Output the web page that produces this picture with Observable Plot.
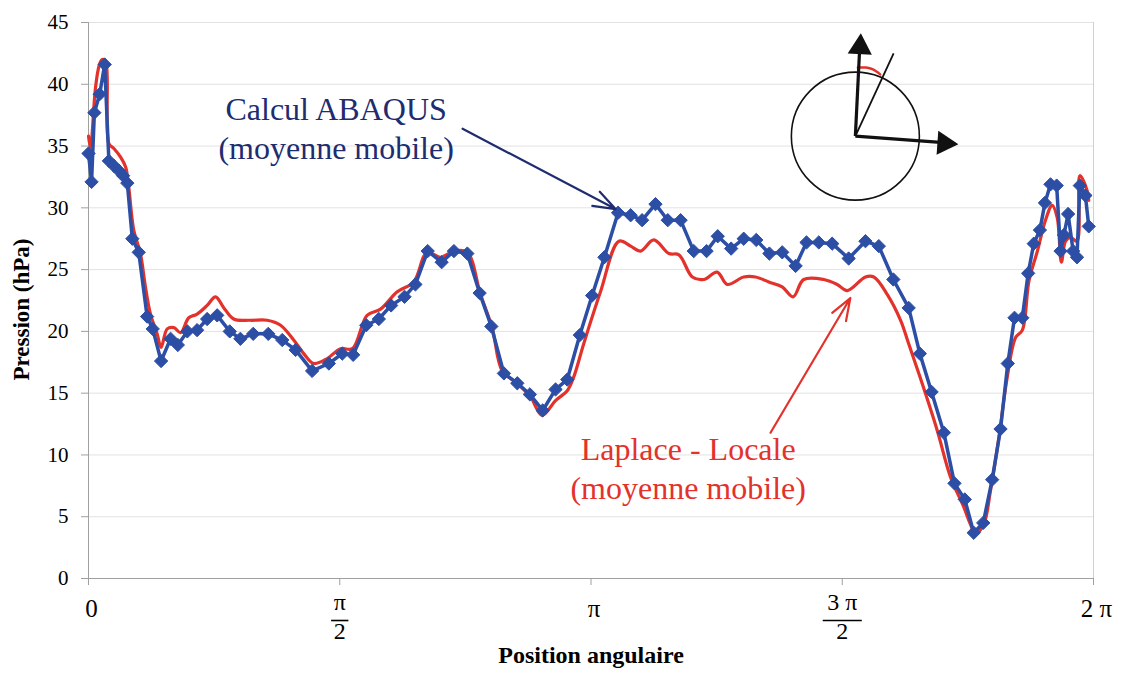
<!DOCTYPE html>
<html>
<head>
<meta charset="utf-8">
<script src="https://cdn.jsdelivr.net/npm/d3@7"></script>
<script src="https://cdn.jsdelivr.net/npm/@observablehq/plot@0.6"></script>
<style>
  html, body { margin: 0; padding: 0; background: #fff; }
  #chart svg { display: block; }
</style>
</head>
<body>
<div id="chart"></div>
<script>
// Angular position in degrees (0..360 = 0..2π), pressure in hPa
const abaqusAngle = [0.0,1.1,2.1,4.0,5.8,7.3,9.1,10.9,12.4,13.9,15.7,18.0,21.0,23.0,26.0,29.4,32.0,35.4,38.9,42.5,46.1,50.6,54.4,59.0,64.4,69.4,74.2,80.1,86.1,90.9,94.8,99.5,104.0,108.4,113.2,117.1,121.5,126.5,130.9,135.7,140.1,144.3,148.8,153.6,158.1,162.7,167.3,171.5,176.0,180.4,184.8,189.7,194.2,198.3,203.1,207.5,212.1,216.8,221.4,225.4,230.2,234.7,239.2,243.9,248.5,253.3,257.2,261.6,266.4,272.3,278.3,283.1,288.3,293.8,297.8,302.0,306.4,310.2,313.9,317.1,320.5,323.7,326.7,329.3,331.7,334.5,336.6,338.6,340.8,342.6,344.6,346.8,348.2,349.4,350.9,352.7,354.1,355.1,357.1,358.3];
const abaqusP = [34.4,32.1,37.7,39.2,41.6,33.8,33.4,33.0,32.6,32.0,27.5,26.4,21.2,20.2,17.6,19.4,18.9,20.0,20.1,21.0,21.3,20.0,19.4,19.8,19.8,19.3,18.5,16.8,17.4,18.2,18.1,20.5,21.0,22.1,22.8,23.8,26.5,25.6,26.5,26.3,23.1,20.4,16.6,15.8,14.9,13.6,15.3,16.1,19.7,22.9,26.0,29.6,29.4,29.0,30.3,29.0,29.0,26.5,26.5,27.7,26.7,27.5,27.4,26.3,26.4,25.3,27.2,27.2,27.1,25.9,27.3,26.9,24.2,21.9,18.2,15.1,11.8,7.7,6.4,3.7,4.5,8.0,12.1,17.4,21.1,21.1,24.7,27.1,28.2,30.4,31.9,31.8,26.5,27.8,29.5,26.5,26.0,31.8,31.0,28.5];

const laplaceAngle = [0.0,0.7,2.5,3.8,4.9,6.1,7.3,9.1,11.5,13.3,14.4,16.2,18.6,20.4,22.2,24.6,26.0,28.2,30.6,33.0,35.9,38.9,42.5,45.5,48.5,52.0,58.0,64.0,68.8,73.5,77.1,80.7,85.5,90.3,94.5,99.8,104.6,110.6,116.5,121.3,126.1,130.9,135.7,140.4,144.6,148.2,153.6,158.3,162.5,167.3,171.5,173.8,177.4,183.4,190.0,194.2,197.7,202.5,207.9,211.5,216.3,220.4,225.2,228.8,234.7,238.9,243.7,248.5,252.4,256.2,263.4,268.2,271.8,278.3,281.3,286.1,290.9,293.8,298.6,304.0,308.8,313.5,315.9,317.7,320.7,323.1,326.1,329.1,332.1,334.5,336.9,339.9,342.8,345.2,347.0,348.5,350.0,351.8,354.1,355.1,357.7,358.3];
const laplaceP = [35.8,34.9,39.7,41.5,42.0,41.9,35.2,34.8,34.1,33.3,31.7,28.2,26.3,23.6,21.4,19.8,18.7,20.2,20.3,19.9,21.1,21.4,22.1,22.8,21.9,21.0,20.9,20.9,20.5,19.3,18.2,17.4,17.8,18.6,18.6,21.3,21.8,23.2,24.0,26.4,26.0,26.5,26.4,23.0,20.3,16.8,15.8,14.7,13.2,14.4,15.2,16.3,19.0,23.2,27.3,26.9,26.5,27.4,26.3,26.2,24.4,24.2,24.8,23.8,24.4,24.4,24.0,23.6,22.8,24.2,24.2,23.8,23.3,24.4,24.4,23.0,20.9,19.0,15.8,12.0,8.2,5.8,4.4,3.6,4.4,7.1,11.4,16.3,19.5,20.1,24.1,26.5,29.0,30.2,29.2,25.6,27.3,27.6,27.3,32.6,31.4,30.6];

const yTicks = [0,5,10,15,20,25,30,35,40,45];
const xTicks = [0,90,180,270,360];
const xTickLabels = ["0","π/2","π","3 π/2","2 π"];

const yTitle = "Pression (hPa)";
const xTitle = "Position angulaire";
const abaqusNote = ["Calcul ABAQUS","(moyenne mobile)"];
const laplaceNote = ["Laplace - Locale","(moyenne mobile)"];

const blue = "#2D4EA5";
const red = "#E3322B";
const navy = "#202C70";

// inset sketch (angle, pressure coordinates)
const insetCenter = [274.7, 35.8];
const insetArrows = [
  {x2: 276.2, y2: 42.7, hx: 276.4, hy: 43.0, rot: 3},
  {x2: 305.2, y2: 35.3, hx: 306.6, hy: 35.23, rot: 94}
];
const insetRay = [288.4, 42.5];
const insetArcAngle = [275.6, 278.5, 281.0, 283.6];
const insetArcP = [41.35, 41.35, 41.2, 40.8];

const blueData = abaqusAngle.map((a, i) => ({a, p: abaqusP[i]}));
const redData = laplaceAngle.map((a, i) => ({a, p: laplaceP[i]}));
const tickData = xTicks.map((x, i) => {
  const s = xTickLabels[i];
  const parts = s.split("/");
  return {x, frac: parts.length === 2, num: parts[0], den: parts[1] || "", label: s};
});
const fracTicks = tickData.filter(d => d.frac);
const plainTicks = tickData.filter(d => !d.frac);
// fraction bar half-width (degrees) follows numerator length; bar sits just below the axis
const barHalf = d => d.num.length > 1 ? 7.0 : 3.1;
const barY = -3.4;

const serif = "'Liberation Serif', 'Times New Roman', serif";

const chart = Plot.plot({
  width: 1121,
  height: 673,
  marginLeft: 88,
  marginRight: 28,
  marginTop: 22,
  marginBottom: 95,
  style: {fontFamily: serif, fontSize: "20px", color: "#000", background: "#fff"},
  x: {domain: [0, 360], axis: null},
  y: {domain: [0, 45], axis: null},
  marks: [
    Plot.ruleY(yTicks, {stroke: "#e2e2e2", strokeWidth: 1}),
    Plot.ruleX([360], {stroke: "#d0d0d0"}),
    Plot.ruleX([0], {stroke: "#a0a0a0"}),
    Plot.ruleY([0], {stroke: "#a0a0a0"}),
    Plot.axisY({ticks: yTicks, tickSize: 7, tickPadding: 13, stroke: "#a0a0a0", label: null, fontSize: 21}),
    Plot.axisX({ticks: xTicks, tickSize: 7, tickFormat: () => "", stroke: "#a0a0a0", label: null}),
    // x tick labels
    Plot.text(plainTicks, {x: "x", text: "label", frameAnchor: "bottom", dx: 3, dy: 38, fontSize: 25}),
    Plot.text(fracTicks, {x: "x", text: "num", frameAnchor: "bottom", dy: 31, fontSize: 24}),
    Plot.link(fracTicks, {x1: d => d.x - barHalf(d), x2: d => d.x + barHalf(d), y1: barY, y2: barY, stroke: "#000", strokeWidth: 1.6}),
    Plot.text(fracTicks, {x: "x", text: "den", frameAnchor: "bottom", dy: 60, fontSize: 24}),
    // titles
    Plot.text([xTitle], {frameAnchor: "bottom", dy: 84, fontSize: 24, fontWeight: "bold"}),
    Plot.text([yTitle], {frameAnchor: "left", textAnchor: "middle", dx: -67, dy: 9, rotate: -90, fontSize: 23, fontWeight: "bold"}),
    // series
    Plot.line(redData, {x: "a", y: "p", stroke: red, strokeWidth: 3.2, curve: "catmull-rom"}),
    Plot.line(blueData, {x: "a", y: "p", stroke: blue, strokeWidth: 3.5}),
    Plot.dot(blueData, {x: "a", y: "p", symbol: "diamond2", r: 6, fill: blue, stroke: blue, strokeWidth: 1}),
    // annotations
    Plot.text(abaqusNote, {x: 88.7, y: (d, i) => [37.9, 34.8][i], text: d => d, fill: navy, fontSize: 32}),
    Plot.arrow([0], {x1: 134.0, y1: 36.4, x2: 188.8, y2: 29.9, stroke: navy, strokeWidth: 2.2, headLength: 16, headAngle: 40}),
    Plot.text(laplaceNote, {x: 214.8, y: (d, i) => [10.4, 7.3][i], text: d => d, fill: red, fontSize: 32}),
    Plot.arrow([0], {x1: 244.3, y1: 11.8, x2: 272.9, y2: 22.7, stroke: red, strokeWidth: 2.2, headLength: 16, headAngle: 40}),
    // inset sketch
    Plot.dot([insetCenter], {x: d => d[0], y: d => d[1], r: 64, stroke: "#111", strokeWidth: 1.6, fill: "none"}),
    Plot.line(insetArcAngle.map((a, i) => [a, insetArcP[i]]), {x: d => d[0], y: d => d[1], stroke: red, strokeWidth: 2.5, curve: "catmull-rom"}),
    Plot.link([insetRay], {x1: insetCenter[0], y1: insetCenter[1], x2: d => d[0], y2: d => d[1], stroke: "#111", strokeWidth: 1.8}),
    Plot.link(insetArrows, {x1: insetCenter[0], y1: insetCenter[1], x2: "x2", y2: "y2", stroke: "#111", strokeWidth: 3.2}),
    Plot.dot(insetArrows, {x: "hx", y: "hy", symbol: "triangle", r: 9, rotate: "rot", fill: "#111", stroke: "none"})
  ]
});
document.getElementById("chart").appendChild(chart);
</script>
</body>
</html>
